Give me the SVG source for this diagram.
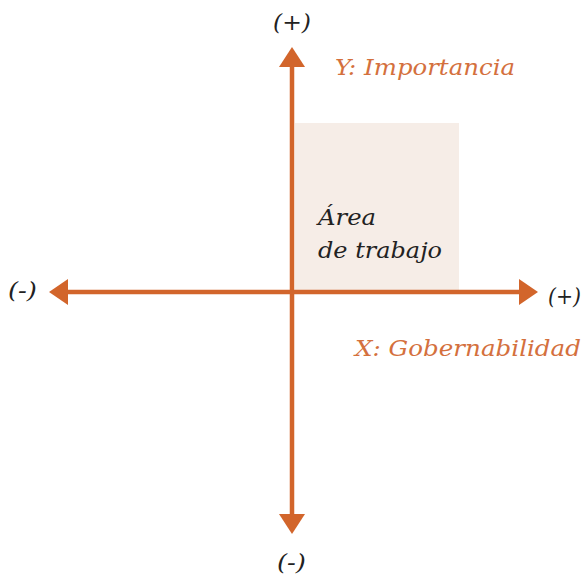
<svg xmlns="http://www.w3.org/2000/svg" width="586" height="574" viewBox="0 0 586 574">
<style>
.ax{stroke:#d2652b;stroke-width:4.5;fill:none}
.hd{fill:#d2652b}
.k{font-family:'DejaVu Serif','Liberation Serif',serif;font-style:italic;fill:#222;font-size:22px}
.o{font-family:'DejaVu Serif','Liberation Serif',serif;font-style:italic;fill:#d4703d;font-size:22px}
</style>
<rect width="586" height="574" fill="#fff"/>
<g id="area">
<rect x="295" y="123" width="164" height="168" fill="#f6ede7"/>
<text class="k" x="318" y="225" textLength="58" lengthAdjust="spacingAndGlyphs">Área</text>
<text class="k" x="318" y="258" textLength="124" lengthAdjust="spacingAndGlyphs">de trabajo</text>
</g>
<g id="connectors">
<line class="ax" x1="292" y1="64" x2="292" y2="516"/>
<line class="ax" x1="66" y1="292" x2="520" y2="292"/>
<polygon class="hd" points="292,47 279,67 305,67"/>
<polygon class="hd" points="292,534 279,514 305,514"/>
<polygon class="hd" points="49,292 68,279 68,305"/>
<polygon class="hd" points="538,292 519,279 519,305"/>
</g>
<g id="labels">
<text class="k" x="273" y="30" textLength="38" lengthAdjust="spacingAndGlyphs">(+)</text>
<text class="o" x="335" y="75" textLength="180" lengthAdjust="spacingAndGlyphs">Y: Importancia</text>
<text class="k" x="8" y="298" textLength="29" lengthAdjust="spacingAndGlyphs">(-)</text>
<text class="k" x="548" y="304" textLength="33" lengthAdjust="spacingAndGlyphs">(+)</text>
<text class="o" x="355" y="356" textLength="226" lengthAdjust="spacingAndGlyphs">X: Gobernabilidad</text>
<text class="k" x="277" y="570" textLength="29" lengthAdjust="spacingAndGlyphs">(-)</text>
</g>
</svg>
